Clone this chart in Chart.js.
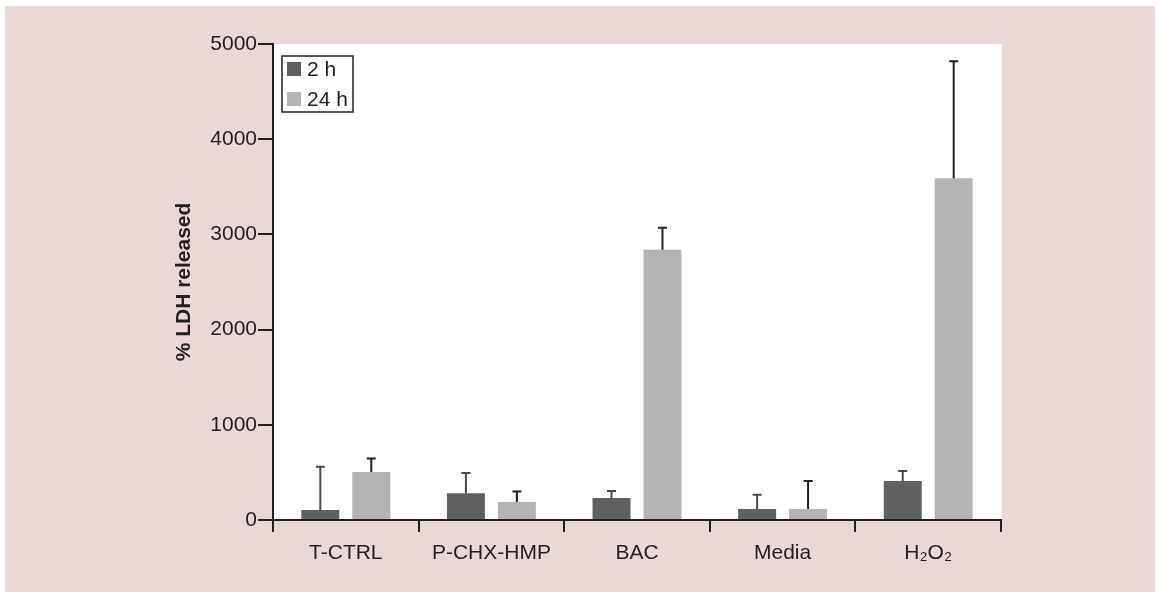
<!DOCTYPE html>
<html>
<head>
<meta charset="utf-8">
<script src="https://cdn.jsdelivr.net/npm/chart.js"></script>
<style>
  html, body { margin: 0; padding: 0; background: #ffffff; }
  #wrap { width: 1159px; height: 592px; }
</style>
</head>
<body>
<div id="wrap"><canvas id="ldhChart" width="1159" height="592"></canvas></div>
<script>
// values
const categories = ['T-CTRL', 'P-CHX-HMP', 'BAC', 'Media', 'H₂O₂'];
const seriesNames = ['2 h', '24 h'];
const values2h = [105, 280, 230, 115, 410];
const errors2h = [455, 215, 75, 150, 105];
const values24h = [505, 190, 2840, 115, 3590];
const errors24h = [140, 110, 230, 295, 1230];
const yMin = 0;
const yMax = 5000;
const yStep = 1000;

const ink = '#231f20';
const pink = '#ead8d7';
const dark = '#5f6160';
const light = '#b3b4b3';
const font = 'Liberation Sans, Arial, Helvetica, sans-serif';

// pink panel + white plot area
const backdrop = {
  id: 'backdrop',
  beforeDraw(chart) {
    const ctx = chart.ctx;
    const a = chart.chartArea;
    ctx.save();
    ctx.fillStyle = pink;
    ctx.fillRect(5, 6, 1150, 586);
    ctx.fillStyle = '#ffffff';
    ctx.fillRect(a.left, a.top, a.right - a.left + 1, a.bottom - a.top);
    ctx.restore();
  }
};

// one-sided (upper) error bars
const errorBars = {
  id: 'errorBars',
  afterDatasetsDraw(chart) {
    const ctx = chart.ctx;
    const y = chart.scales.y;
    chart.data.datasets.forEach((ds, i) => {
      const meta = chart.getDatasetMeta(i);
      ctx.save();
      ctx.strokeStyle = ds.errorColor;
      ctx.lineWidth = 2;
      meta.data.forEach((bar, j) => {
        const top = y.getPixelForValue(ds.data[j] + ds.errors[j]);
        ctx.beginPath();
        ctx.moveTo(bar.x, bar.y);
        ctx.lineTo(bar.x, top);
        ctx.moveTo(bar.x - 4.5, top);
        ctx.lineTo(bar.x + 4.5, top);
        ctx.stroke();
      });
      ctx.restore();
    });
  }
};

// boxed legend in the top-left corner of the plot
const boxLegend = {
  id: 'boxLegend',
  afterDraw(chart) {
    const ctx = chart.ctx;
    const a = chart.chartArea;
    const x = a.left + 9, y = a.top + 12;
    ctx.save();
    ctx.strokeStyle = ink;
    ctx.lineWidth = 1.5;
    ctx.strokeRect(x, y, 71, 56);
    ctx.font = '21px ' + font;
    ctx.textBaseline = 'middle';
    chart.data.datasets.forEach((ds, i) => {
      const rowY = y + 13 + i * 30;
      ctx.fillStyle = ds.backgroundColor;
      ctx.fillRect(x + 5, rowY - 7, 14, 14);
      ctx.fillStyle = ink;
      ctx.fillText(ds.label, x + 25, rowY + 1);
    });
    ctx.restore();
  }
};

new Chart(document.getElementById('ldhChart'), {
  type: 'bar',
  data: {
    labels: categories,
    datasets: [
      { label: seriesNames[0], data: values2h, errors: errors2h, backgroundColor: dark, errorColor: '#4a4c4b' },
      { label: seriesNames[1], data: values24h, errors: errors24h, backgroundColor: light, errorColor: '#1f1f1f' }
    ]
  },
  options: {
    responsive: false,
    animation: false,
    categoryPercentage: 0.70,
    barPercentage: 0.745,
    layout: { padding: { left: 0, top: 44, right: 158, bottom: 0 } },
    plugins: { legend: { display: false }, tooltip: { enabled: false } },
    scales: {
      x: {
        afterFit(scale) { scale.height = 72; },
        grid: { drawOnChartArea: false, drawTicks: true, tickLength: 12, color: ink, lineWidth: 2 },
        border: { color: ink, width: 2 },
        ticks: { color: ink, font: { family: font, size: 21 }, padding: 9, maxRotation: 0 }
      },
      y: {
        min: yMin,
        max: yMax,
        afterFit(scale) { scale.width = 273; },
        grid: { drawOnChartArea: false, drawTicks: true, tickLength: 15, color: ink, lineWidth: 2 },
        border: { color: ink, width: 2 },
        ticks: {
          stepSize: yStep,
          color: ink,
          font: { family: font, size: 21 },
          padding: 1,
          callback: (v) => String(v)
        },
        title: {
          display: true,
          text: '% LDH released',
          color: ink,
          font: { family: font, size: 21, weight: 'bold' },
          padding: { top: 172, bottom: 0 }
        }
      }
    }
  },
  plugins: [backdrop, errorBars, boxLegend]
});
</script>
</body>
</html>
